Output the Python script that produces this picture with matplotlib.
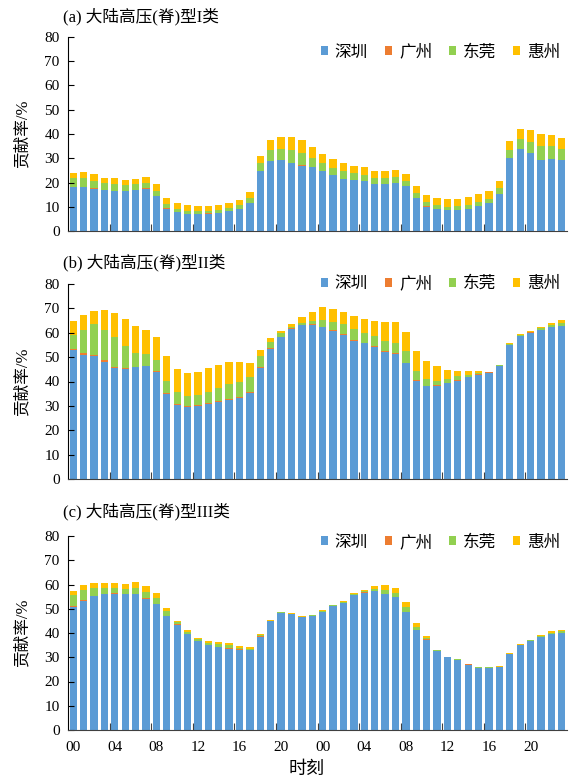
# -*- coding: utf-8 -*-
"""
大陆高压(脊)型 I/II/III 类：各城市逐时贡献率堆叠柱状图
输出：out.png
"""

import numpy as np
import matplotlib
matplotlib.use("Agg")
import matplotlib.pyplot as plt

# =========================
# 1. 字体设置
# =========================
plt.rcParams["font.family"] = ["Liberation Serif", "Noto Sans CJK SC"]
plt.rcParams["axes.unicode_minus"] = False

# =========================
# 2. 数据（两天 48 个时刻）
# =========================
cities = ["深圳", "广州", "东莞", "惠州"]
colors = ["#5B9BD5", "#ED7D31", "#92D050", "#FFC000"]
hour_labels = ["00", "04", "08", "12", "16", "20"] * 2

titles = ["(a) 大陆高压(脊)型I类", "(b) 大陆高压(脊)型II类", "(c) 大陆高压(脊)型III类"]

# (a) I类
sz_a = [18.2, 18.2, 17.5, 16.8, 16.5, 16.4, 16.8, 17.5, 14.5, 9.2, 7.7, 7.0,
        7.0, 7.2, 7.4, 8.1, 9.2, 11.7, 24.8, 28.8, 29.1, 28.1, 27.0, 26.2,
        24.8, 23.0, 21.3, 20.9, 20.5, 19.3, 19.4, 19.8, 18.5, 13.5, 10.1, 9.1,
        8.5, 8.8, 9.2, 10.2, 11.6, 15.4, 30.2, 33.7, 32.0, 29.2, 29.5, 29.1]
gz_a = [0.1, 0.1, 0.2, 0.1, 0.1, 0.1, 0.1, 0.1, 0.1, 0.1, 0.05, 0.05,
        0.05, 0.05, 0.05, 0.05, 0.05, 0.05, 0.1, 0.1, 0.1, 0.1, 0.1, 0.1,
        0.1, 0.1, 0.2, 0.1, 0.1, 0.1, 0.1, 0.1, 0.1, 0.05, 0.05, 0.05,
        0.05, 0.05, 0.05, 0.05, 0.05, 0.05, 0.1, 0.1, 0.1, 0.1, 0.1, 0.1]
dg_a = [3.5, 3.5, 3.0, 2.7, 2.7, 2.5, 2.4, 2.3, 2.1, 1.9, 1.3, 1.1,
        1.1, 1.1, 1.2, 1.3, 1.6, 1.9, 3.1, 4.5, 4.7, 5.2, 5.0, 3.9,
        3.2, 3.0, 3.3, 3.0, 2.6, 2.3, 2.4, 2.3, 2.0, 2.0, 2.0, 1.6,
        1.5, 1.3, 1.6, 1.7, 1.7, 2.2, 3.1, 4.1, 4.6, 5.6, 5.3, 4.6]
hz_a = [2.2, 2.5, 2.7, 2.3, 2.4, 2.1, 2.2, 2.3, 2.5, 2.3, 2.5, 2.6,
        2.0, 2.1, 2.1, 2.2, 2.1, 2.5, 3.0, 4.2, 4.8, 5.3, 5.5, 4.4,
        3.8, 3.7, 3.3, 3.0, 3.1, 3.0, 2.8, 3.0, 2.9, 2.9, 2.7, 2.7,
        3.2, 3.1, 3.0, 3.3, 3.0, 3.1, 3.7, 4.3, 5.1, 5.2, 4.5, 4.5]

# (b) II类
sz_b = [53.0, 51.0, 50.3, 48.2, 45.5, 45.2, 45.8, 46.2, 43.7, 35.0, 30.5, 29.4,
        29.8, 30.9, 31.6, 32.5, 33.1, 35.2, 45.5, 53.4, 58.2, 61.6, 63.0, 63.3,
        62.3, 60.8, 59.2, 56.8, 55.7, 54.2, 52.3, 51.4, 47.5, 40.4, 38.0, 38.3,
        39.3, 40.4, 41.8, 42.8, 43.4, 46.4, 54.9, 58.7, 60.1, 61.2, 62.2, 62.8]
gz_b = [0.5, 0.5, 0.5, 0.6, 0.6, 0.5, 0.3, 0.3, 0.5, 0.3, 0.3, 0.4,
        0.4, 0.3, 0.3, 0.3, 0.5, 0.4, 0.4, 0.3, 0.2, 0.2, 0.2, 0.2,
        0.2, 0.2, 0.2, 0.2, 0.2, 0.2, 0.2, 0.2, 0.2, 0.2, 0.2, 0.2,
        0.2, 0.3, 0.2, 0.2, 0.3, 0.1, 0.1, 0.1, 0.1, 0.1, 0.1, 0.1]
dg_b = [5.4, 9.7, 12.7, 12.4, 12.1, 8.7, 5.5, 4.9, 4.7, 5.0, 4.7, 4.1,
        4.2, 4.5, 5.4, 6.1, 6.4, 6.3, 4.4, 2.6, 1.4, 0.5, 0.7, 1.4,
        2.8, 3.6, 4.1, 4.5, 3.9, 4.1, 4.3, 4.1, 4.9, 3.9, 2.8, 1.8,
        1.5, 1.4, 0.8, 0.4, 0.1, 0.1, 0.5, 0.2, 0.2, 0.6, 1.0, 1.3]
hz_b = [6.1, 5.9, 5.5, 8.1, 10.1, 11.2, 11.2, 9.8, 9.3, 10.2, 9.7, 9.5,
        9.7, 9.8, 9.6, 9.3, 8.2, 5.5, 2.7, 1.4, 1.1, 1.4, 2.5, 3.8,
        5.2, 5.3, 4.9, 5.2, 5.8, 6.4, 7.5, 8.6, 7.9, 8.1, 7.5, 5.9,
        3.8, 2.4, 1.6, 1.0, 0.3, 0.1, 0.2, 0.3, 0.3, 0.5, 0.8, 1.1]

# (c) III类
sz_c = [50.8, 53.4, 55.1, 56.0, 56.2, 56.0, 56.0, 54.2, 51.9, 46.9, 43.5, 39.5,
        36.8, 35.1, 34.3, 33.6, 32.9, 32.8, 38.5, 45.0, 48.3, 47.9, 46.4, 47.1,
        48.7, 51.0, 52.5, 55.8, 56.7, 57.2, 56.0, 54.7, 48.7, 41.3, 37.3, 32.6,
        29.9, 28.9, 27.0, 25.7, 25.7, 25.9, 31.3, 35.0, 36.8, 38.4, 39.4, 40.1]
gz_c = [0.3, 0.1, 0.1, 0.1, 0.1, 0.1, 0.1, 0.1, 0.1, 0.1, 0.1, 0.1,
        0.1, 0.1, 0.1, 0.3, 0.3, 0.1, 0.1, 0.05, 0.05, 0.05, 0.05, 0.05,
        0.05, 0.05, 0.05, 0.05, 0.05, 0.05, 0.05, 0.05, 0.05, 0.05, 0.05, 0.05,
        0.05, 0.05, 0.05, 0.05, 0.05, 0.05, 0.05, 0.05, 0.05, 0.05, 0.05, 0.05]
dg_c = [4.6, 4.3, 3.4, 2.5, 2.2, 2.1, 2.4, 2.8, 2.5, 2.0, 0.9, 1.0,
        0.7, 0.8, 1.0, 1.1, 0.7, 0.7, 0.4, 0.1, 0.2, 0.05, 0.2, 0.2,
        0.3, 0.3, 0.4, 0.3, 0.5, 1.0, 1.7, 1.7, 2.1, 1.3, 0.7, 0.3,
        0.1, 0.2, 0.15, 0.05, 0.05, 0.15, 0.1, 0.2, 0.2, 0.3, 0.7, 0.6]
hz_c = [1.8, 1.8, 1.9, 2.1, 2.0, 2.1, 2.4, 2.2, 1.9, 1.4, 0.5, 0.6,
        0.4, 0.5, 0.7, 0.7, 0.7, 0.7, 0.4, 0.1, 0.2, 0.1, 0.2, 0.2,
        0.4, 0.3, 0.4, 0.3, 0.5, 1.2, 1.9, 2.1, 2.0, 1.5, 0.7, 0.2,
        0.2, 0.2, 0.1, 0.1, 0.1, 0.1, 0.2, 0.2, 0.2, 0.3, 0.5, 0.4]

panels = [
    (sz_a, gz_a, dg_a, hz_a),
    (sz_b, gz_b, dg_b, hz_b),
    (sz_c, gz_c, dg_c, hz_c),
]

# =========================
# 3. 画图
# =========================
W, H = 569, 778
fig = plt.figure(figsize=(W / 100, H / 100), dpi=100)

# 每个子图 (上, 下) 像素位置、标题 y、图例 y(轴坐标)
boxes = [(37, 231, 17, 0.92), (284, 479, 263, 1.0), (536, 730, 512, 0.965)]
x_left, x_right = 68, 567

for k, (series, (top, bottom, ty, leg_y)) in enumerate(zip(panels, boxes)):
    ax = fig.add_axes([x_left / W, 1 - bottom / H,
                       (x_right - x_left) / W, (bottom - top) / H])
    x = np.arange(len(series[0]))
    base = np.zeros(len(x))
    for vals, name, c in zip(series, cities, colors):
        vals = np.array(vals)
        ax.bar(x, vals, bottom=base, width=0.7, color=c, label=name,
               linewidth=0)
        base += vals

    ax.set_xlim(-0.5, len(x) - 0.5)
    ax.set_ylim(0, 80)
    ax.set_yticks(range(0, 81, 10))
    ax.tick_params(axis="y", direction="in", length=4, labelsize=11,
                   pad=6, colors="black")

    # 刻度线放在类别边界，标签放在柱子下方
    ax.set_xticks(np.arange(3.5, len(x) - 1, 4))
    ax.set_xticklabels([])
    ax.tick_params(axis="x", which="major", direction="in", length=5,
                   color="#404040")
    ax.set_xticks(np.arange(0, len(x), 4), minor=True)
    if k == 2:
        ax.set_xticklabels(hour_labels, minor=True)
    ax.tick_params(axis="x", which="minor", length=0, labelsize=11, pad=8)

    ax.spines["top"].set_visible(False)
    ax.spines["right"].set_visible(False)
    ax.spines["left"].set_color("black")
    ax.spines["bottom"].set_color("#404040")

    ax.legend(loc="center right", bbox_to_anchor=(1.0, leg_y), ncol=4,
              frameon=False, fontsize=12, handlelength=0.45,
              handleheight=0.45, handletextpad=0.4, columnspacing=1.0,
              borderaxespad=0)

    fig.text(63 / W, 1 - ty / H, titles[k], fontsize=12, va="center",
             ha="left")
    fig.text(22 / W, 1 - (top + bottom) / 2 / H, "贡献率/%", fontsize=12,
             rotation=90, va="center", ha="center")

fig.text(307 / W, 1 - 769 / H, "时刻", fontsize=13, ha="center",
         va="center")

fig.savefig("out.png", dpi=100)
